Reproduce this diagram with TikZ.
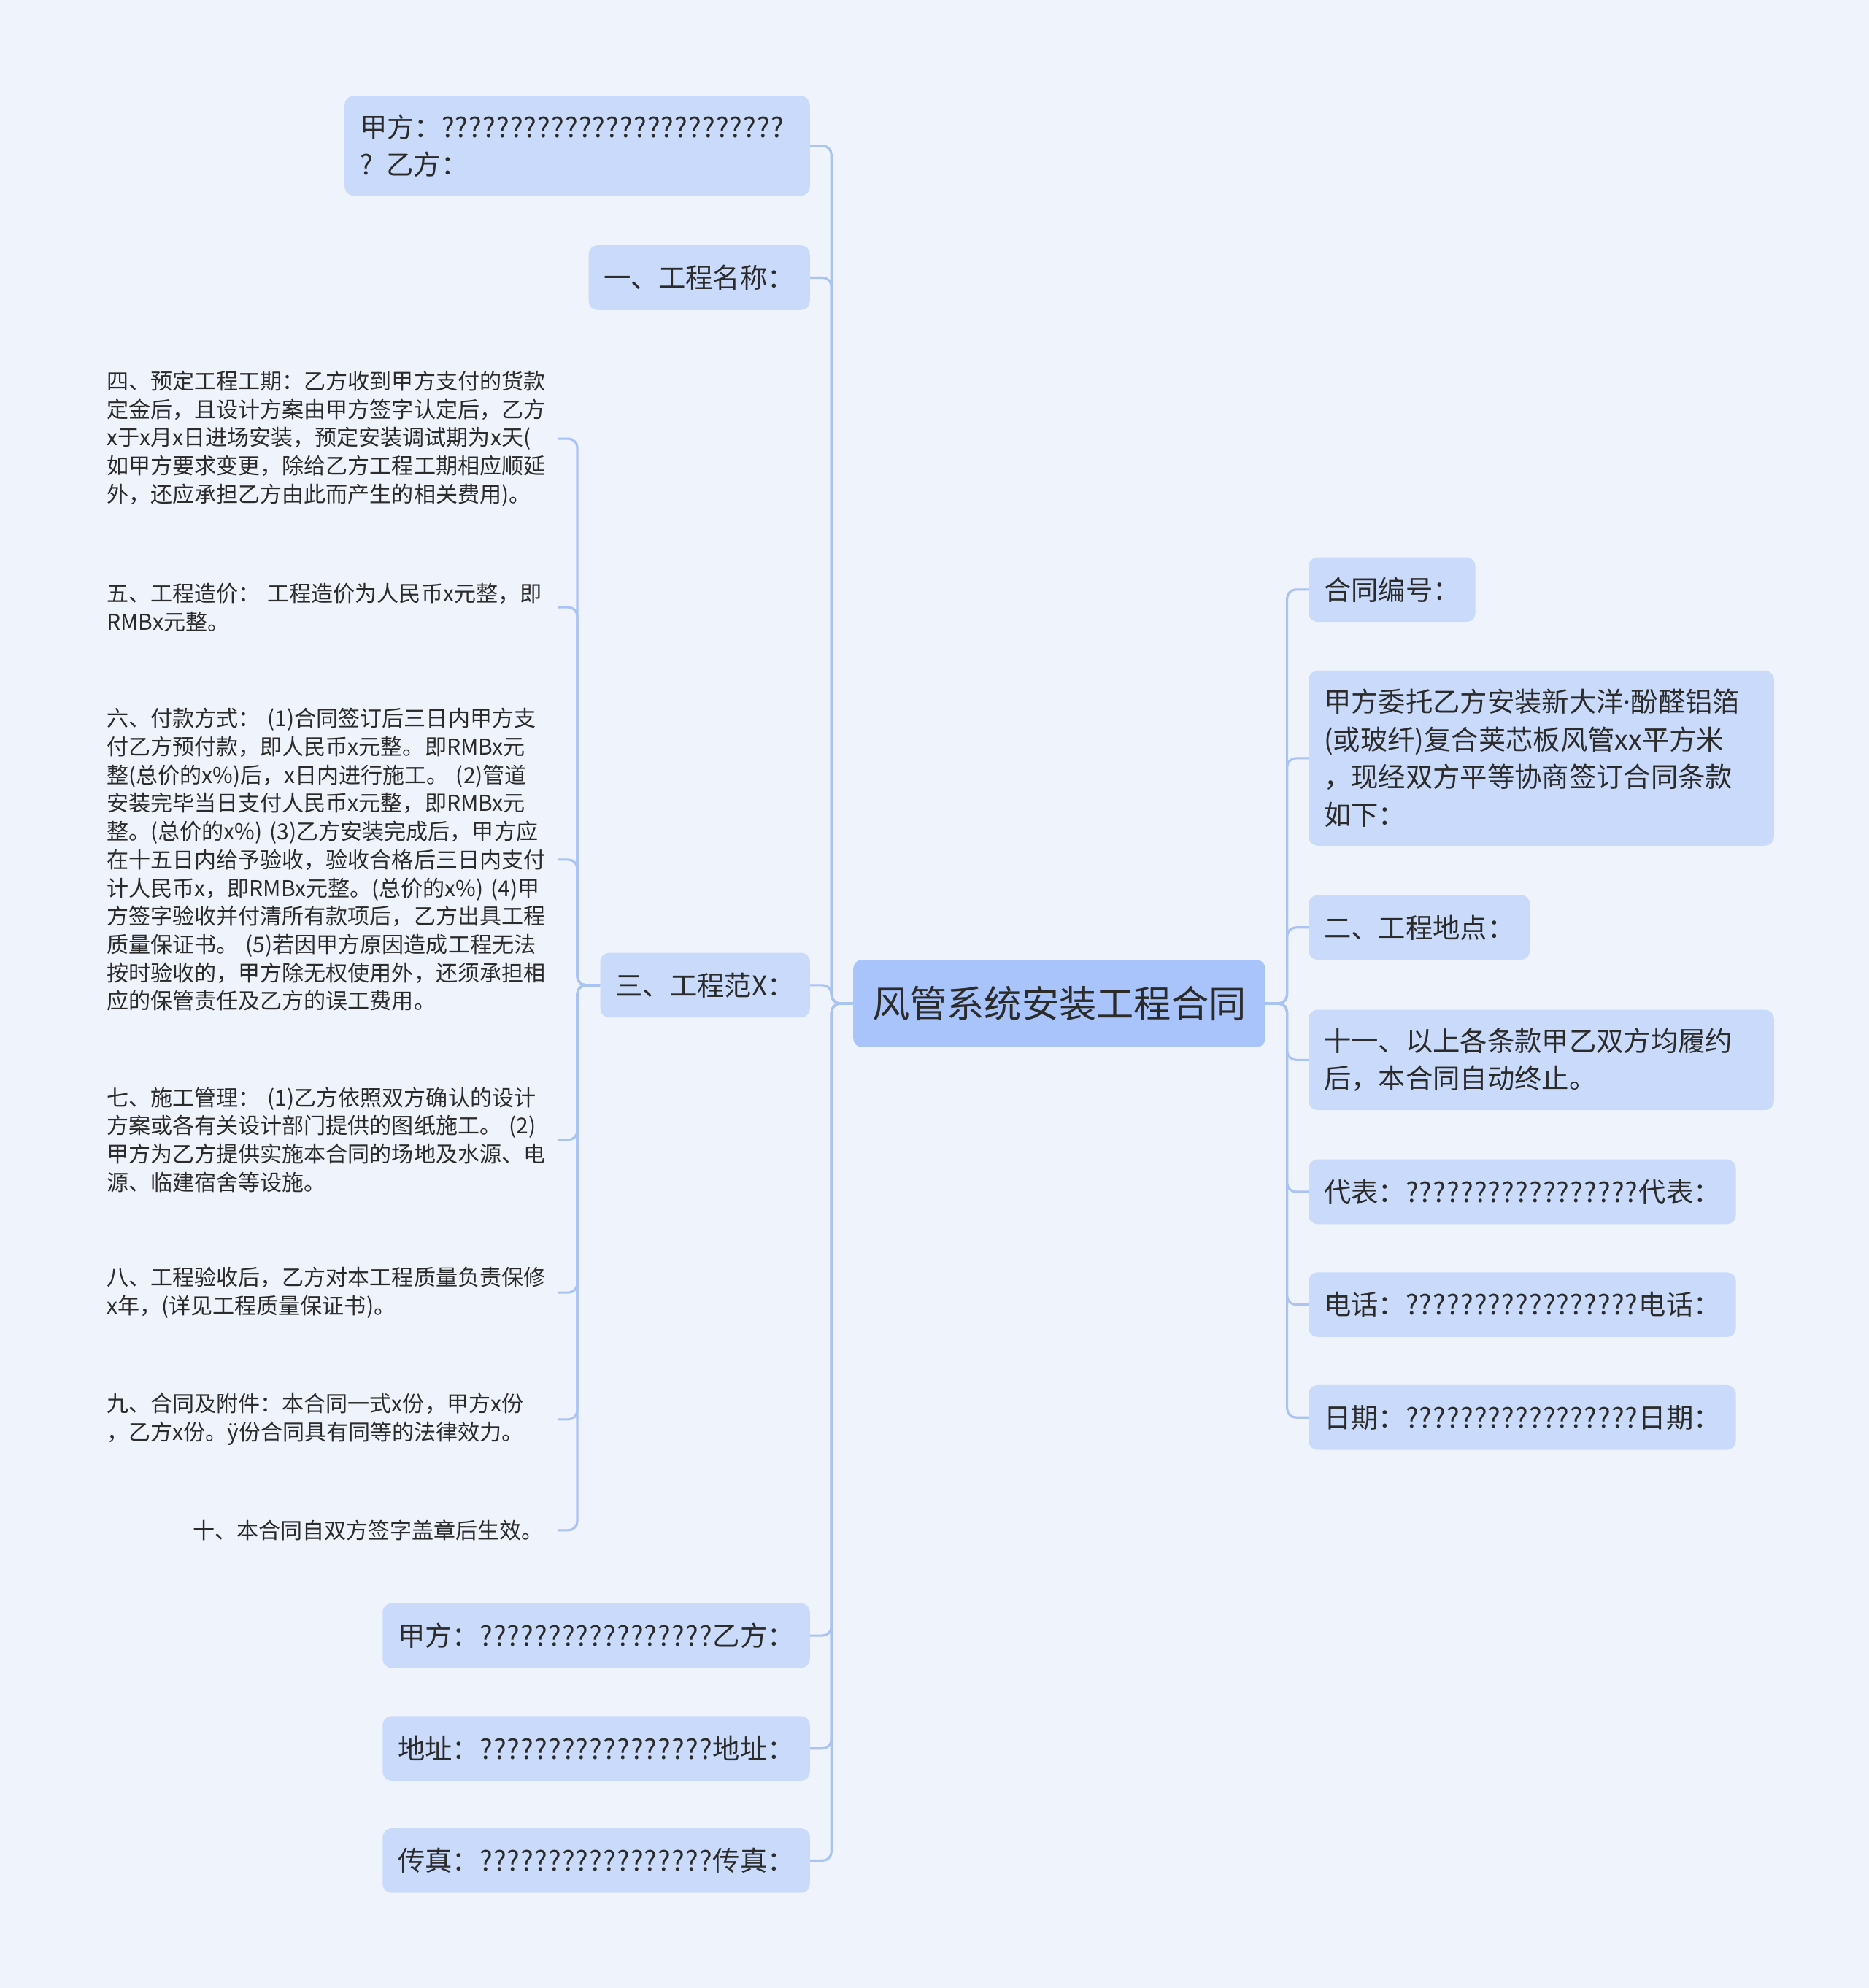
\documentclass[tikz,border=0pt]{standalone}
\usepackage{fontspec}
\usepackage{xcolor}
\usepackage{tikz}
\setmainfont{Noto Sans CJK SC}
\newfontfamily\latinfont{Noto Sans}
\definecolor{bg}{HTML}{EEF3FC}
\definecolor{leaf}{HTML}{C9DAFB}
\definecolor{hub}{HTML}{A9C4FA}
\definecolor{wire}{HTML}{A9C3F3}
\definecolor{ink}{HTML}{2B2B2B}
\newcommand\qrun[1]{\foreach \i in {1,...,#1}{?\kern0.63pt}}

\begin{document}
\begin{tikzpicture}[x=1pt,y=-1pt,
  box/.style={fill=leaf,rounded corners=7pt,inner xsep=12pt,inner ysep=14.5pt,minimum height=51pt,text=ink,font=\fontsize{21.5}{29.7}\selectfont,align=left},
  wide/.style={box,text width=343pt},
  note/.style={inner xsep=4pt,inner ysep=2pt,text=ink,font=\fontsize{17.3}{22.3}\selectfont,align=left},
  link/.style={wire,line width=1.8pt,rounded corners=7pt}]
  \fill[bg] (0,0) rectangle (1474,1568);
  \node[box,fill=hub,font=\fontsize{29.5}{36}\selectfont,inner xsep=15pt,inner ysep=0pt,minimum height=69pt] (root) at (835.5,791.5) {风管系统安装工程合同};
  % right side
  \node[box,anchor=west] (num) at (1032,465) {合同编号：};
  \node[wide,anchor=west] (intro) at (1032,598) {甲方委托乙方安装新大洋{\latinfont ·}酚醛铝箔\\(或玻纤)复合荚芯板风管xx平方米\\，现经双方平等协商签订合同条款\\如下：};
  \node[box,anchor=west] (site) at (1032,731.5) {二、工程地点：};
  \node[wide,anchor=west] (finish) at (1032,836) {十一、以上各条款甲乙双方均履约\\后，本合同自动终止。};
  \node[box,anchor=west] (rep) at (1032,940) {代表：\qrun{17}代表：};
  \node[box,anchor=west] (tel) at (1032,1029) {电话：\qrun{17}电话：};
  \node[box,anchor=west] (date) at (1032,1118) {日期：\qrun{17}日期：};
  % left side
  \node[wide,anchor=east] (pty) at (639,115) {甲方：\qrun{25}\\? 乙方：};
  \node[box,anchor=east] (pname) at (639,219) {一、工程名称：};
  \node[box,anchor=east] (scope) at (639,777) {三、工程范X：};
  \node[box,anchor=east] (sign) at (639,1290) {甲方：\qrun{17}乙方：};
  \node[box,anchor=east] (addr) at (639,1379) {地址：\qrun{17}地址：};
  \node[box,anchor=east] (fax) at (639,1467.5) {传真：\qrun{17}传真：};
  % clauses under scope
  \node[note,anchor=west,text width=352pt] (d4) at (80,346) {四、预定工程工期：乙方收到甲方支付的货款\\定金后，且设计方案由甲方签字认定后，乙方\\x于x月x日进场安装，预定安装调试期为x天(\\如甲方要求变更，除给乙方工程工期相应顺延\\外，还应承担乙方由此而产生的相关费用)。};
  \node[note,anchor=west,text width=352pt] (d5) at (80,479) {五、工程造价： 工程造价为人民币x元整，即\\RMBx元整。};
  \node[note,anchor=west,text width=352pt] (d6) at (80,678) {六、付款方式： (1)合同签订后三日内甲方支\\付乙方预付款，即人民币x元整。即RMBx元\\整(总价的x\%)后，x日内进行施工。 (2)管道\\安装完毕当日支付人民币x元整，即RMBx元\\整。(总价的x\%) (3)乙方安装完成后，甲方应\\在十五日内给予验收，验收合格后三日内支付\\计人民币x，即RMBx元整。(总价的x\%) (4)甲\\方签字验收并付清所有款项后，乙方出具工程\\质量保证书。 (5)若因甲方原因造成工程无法\\按时验收的，甲方除无权使用外，还须承担相\\应的保管责任及乙方的误工费用。};
  \node[note,anchor=west,text width=352pt] (d7) at (80,899) {七、施工管理： (1)乙方依照双方确认的设计\\方案或各有关设计部门提供的图纸施工。 (2)\\甲方为乙方提供实施本合同的场地及水源、电\\源、临建宿舍等设施。};
  \node[note,anchor=west,text width=352pt] (d8) at (80,1019.5) {八、工程验收后，乙方对本工程质量负责保修\\x年，(详见工程质量保证书)。};
  \node[note,anchor=west,text width=352pt] (d9) at (80,1119.5) {九、合同及附件：本合同一式x份，甲方x份\\，乙方x份。ÿ份合同具有同等的法律效力。};
  \node[note,anchor=east] (d10) at (433,1207) {十、本合同自双方签字盖章后生效。};
  % connectors
  \foreach \c in {num,intro,site,finish,rep,tel,date}
    \draw[link] (root.east) -- ++(17,0) |- (\c.west);
  \foreach \c in {pty,pname,scope,sign,addr,fax}
    \draw[link] (root.west) -- ++(-17,0) |- (\c.east);
  \foreach \c in {d4,d5,d6,d7,d8,d9}
    \draw[link] (scope.west) -- ++(-18,0) |- (\c.east);
  \draw[link] (scope.west) -- ++(-18,0) |- ([xshift=7pt]d10.east);
\end{tikzpicture}
\end{document}
